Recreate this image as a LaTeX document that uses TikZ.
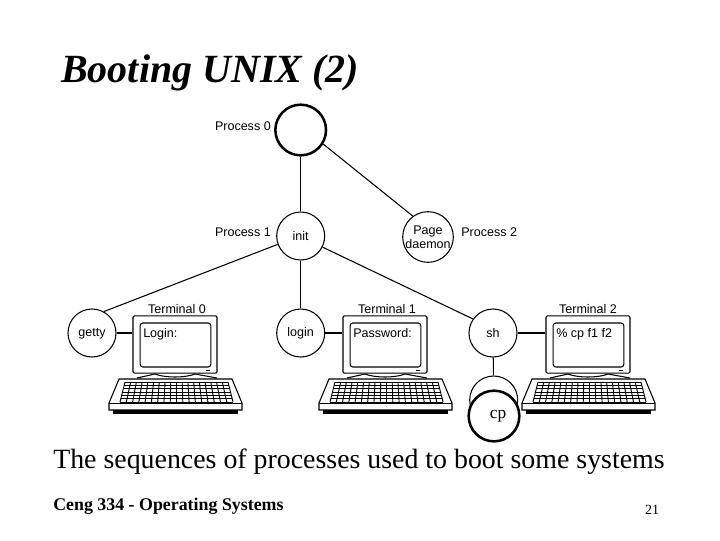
\documentclass[tikz,border=0pt]{standalone}
\usepackage{fontspec}
\setmainfont{Liberation Serif}
\newfontfamily\labelfont{Liberation Sans}

\newcommand{\lowtext}[1]{\raisebox{-2.5pt}[4pt][4pt]{#1}}

\tikzset{
    proc/.style={circle, draw, fill=white, line width=0.8pt, minimum size=36pt, inner sep=0pt, align=center, font=\labelfont\fontsize{9.4}{10.5}\selectfont},
    bigproc/.style={proc, line width=1.9pt, minimum size=38pt},
    tag/.style={font=\labelfont\fontsize{9.4}{10.5}\selectfont, inner sep=0pt, text height=7pt, text depth=0.5pt},
    monitor/.style={draw, rounded corners=1pt, line width=0.8pt, minimum width=63pt, minimum height=43pt, inner sep=0pt},
    screen/.style={draw, rounded corners=2pt, line width=0.8pt, minimum width=53pt, minimum height=33pt, inner sep=0pt},
    prompt/.style={tag, anchor=west},
}

\begin{document}
\begin{tikzpicture}[x=0.75pt, y=-0.75pt]
        \useasboundingbox (0,0) rectangle (720,540);

        \node[anchor=west, inner sep=0pt, font=\fontsize{30}{33}\selectfont\bfseries\itshape] (title) at (61,73) {Booting UNIX (2)};

        % process tree
        \node[bigproc] (p0) at (300.7,130) {};
        \node[proc] (init) at (300.7,236) {init};
        \node[proc] (daemon) at (428,237) {Page\\daemon};
        \node[proc] (getty) at (92,333) {\lowtext{getty}};
        \node[proc] (login) at (300.7,333) {\lowtext{login}};
        \node[proc] (sh) at (493,333) {sh};

        \node[tag, anchor=east] (l0) at (271,126) {Process 0};
        \node[tag, anchor=east] (l1) at (271,232) {Process 1};
        \node[tag, anchor=west] (l2) at (461,232) {Process 2};

        % terminals
        \foreach \n/\dx/\tx/\who/\txt in {0/0/177/getty/Login:, 1/210/177/login/Password:, 2/413/175/sh/\% cp f1 f2}{
            \begin{scope}[shift={(\dx,0)}]
                \draw[line width=0.8pt] (137,378) -- (155,374) .. controls (165,378) and (185,378) .. (195,374) -- (217,378);
                \node[monitor] (mon\n) at (175,344.5) {};
                \node[screen] (scr\n) at (175.5,345) {};
                \draw[line width=1pt] (206,370.5) -- (210,370.5);
                \node[prompt] (txt\n) at (143,333) {\txt};
                \node[tag] (term\n) at (\tx,309) {Terminal \n};
                \draw[fill=white, line width=0.8pt] (119,379) -- (232,379) -- (242,403) -- (242,410) -- (109,410) -- (109,403) -- cycle;
                \draw[line width=0.6pt] (109,403) -- (242,403);
                \fill (113,410) rectangle (238,414);
                \foreach \k in {0,...,6}
                    \draw[line width=0.7pt] (125-0.83*\k,382+3.33*\k) -- (228+0.83*\k,382+3.33*\k);
                \foreach \k in {0,...,18}
                    \draw[line width=0.7pt] (125+5.72*\k,382) -- (120+6.28*\k,402);
            \end{scope}
            \draw[line width=0.8pt] (\who) -- (\who -| mon\n.west);
        }

        % connectors
        \draw[line width=0.8pt] (p0) -- (init);
        \draw[line width=0.8pt] (p0.-32) -- (daemon.126);
        \draw[line width=0.8pt] (init.200) -- (getty.61);
        \draw[line width=0.8pt] (init) -- (login);
        \draw[line width=0.8pt] (init.-27) -- (sh.145);

        % cp sits on top of its parent
        \node[proc] (cpback) at (493.7,400) {};
        \draw[line width=0.8pt] (sh) -- (cpback);
        \node[bigproc, font=\fontsize{13}{13}\selectfont] (cp) at (494,416) {\hspace*{6pt}cp};

        \node[anchor=west, inner sep=0pt, font=\fontsize{20.9}{23}\selectfont] (caption) at (53,462) {The sequences of processes used to boot some systems};
        \node[anchor=west, inner sep=0pt, font=\fontsize{13.4}{15}\selectfont\bfseries] (course) at (53,506) {Ceng 334 - Operating Systems};
        \node[inner sep=0pt, font=\fontsize{10.5}{12}\selectfont] (pageno) at (652,510) {21};
    \end{tikzpicture}
\end{document}
